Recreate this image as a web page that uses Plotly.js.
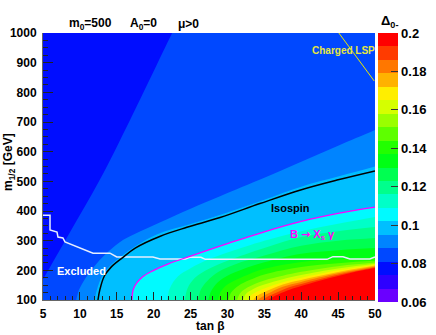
<!DOCTYPE html>
<html><head><meta charset="utf-8">
<script src="https://cdn.plot.ly/plotly-3.0.1.min.js"></script>
<style>html,body{margin:0;padding:0;background:#fff}#chart{width:436px;height:335px}</style>
</head><body><div id="chart"></div>
<script>
// ---- data ----
// band edges of Delta_0- (colour contours)
const levels = [0.081,0.088,0.095,0.102,0.109,0.116,0.123,0.130,0.137,0.144,0.151,0.158,0.165,0.172,0.179,0.186,0.193];
const cbarTicks = [0.06,0.08,0.10,0.12,0.14,0.16,0.18,0.20];
const cbarTickText = ['0.06','0.08','0.1','0.12','0.14','0.16','0.18','0.2'];

// contour of each level: tan(beta) and m_1/2 [GeV]
const tb081 = [5, 8.5, 12.7, 16.8, 22.5];
const m081  = [170, 322, 505, 707, 1000];
const tb088 = [9.5, 9.9, 10.8, 12, 13.5, 15.4, 17.5, 20.9, 25, 29, 35, 40, 45, 50];
const m088  = [100, 135, 175, 215, 255, 295, 323, 362, 408, 450, 512, 566, 620, 673];
const tb095 = [12.0, 12.3, 13.0, 14.0, 15.5, 17.5, 20.5, 25, 30, 35, 40, 45, 50];
const m095  = [100, 134, 180, 213, 245, 281, 322, 356, 395, 438, 482, 516, 550];
const tb102 = [17.06, 17.3, 18.5, 20, 22, 25, 30, 35, 40, 45, 50];
const m102  = [100, 140, 178, 200, 222, 248, 290, 330, 365, 392, 413];
const tb109 = [21.8, 22.2, 23.3, 25, 27.5, 30, 35, 40, 45, 50];
const m109  = [100, 140, 180, 207, 237, 260, 300, 332, 357, 380];
const tb116 = [24.2, 24.6, 25.6, 27.5, 30, 35, 40, 45, 50];
const m116  = [100, 140, 175, 205, 232, 275, 312, 332, 346];
const tb123 = [26, 26.4, 27.3, 28.8, 31, 35, 40, 45, 50];
const m123  = [100, 135, 165, 195, 220, 250, 283, 300, 309];
const tb130 = [27.4, 27.8, 28.7, 30, 32, 35, 40, 45, 50];
const m130  = [100, 130, 160, 182, 203, 227, 256, 268, 275];
const tb137 = [28.7, 29.1, 30, 31.5, 33, 35, 40, 45, 50];
const m137  = [100, 128, 152, 172, 188, 205, 228, 237, 242];
const tb144 = [30.1, 30.5, 31.5, 33, 35, 40, 45, 50];
const m144  = [100, 125, 148, 167, 186, 211, 224, 232];
const tb151 = [31.3, 31.7, 32.7, 35, 37.5, 40, 45, 50];
const m151  = [100, 122, 142, 166, 182, 195, 214, 226];
const tb158 = [32.1, 32.5, 33.5, 35, 37.5, 40, 45, 50];
const m158  = [100, 120, 137, 152, 170, 184, 206, 222];
const tb165 = [32.8, 33.2, 34, 35, 37.5, 40, 45, 50];
const m165  = [100, 116, 128, 139, 160, 175, 200, 219];
const tb172 = [33.5, 33.9, 35, 37.5, 40, 45, 50];
const m172  = [100, 112, 126, 152, 167, 194, 216];
const tb179 = [34.1, 34.5, 35.5, 37.5, 40, 45, 50];
const m179  = [100, 108, 122, 145, 161, 190, 213];
const tb186 = [34.8, 35.2, 36.2, 38, 40, 45, 50];
const m186  = [100, 108, 120, 140, 154, 185, 210];
const tb193 = [35.5, 35.9, 37, 38.5, 40, 42.5, 45, 47.5, 50];
const m193  = [100, 107, 120, 135, 147, 165, 181, 196, 208];

// constraint lines
const tbIso = [12.45, 12.7, 13.3, 14.2, 15.8, 17.5, 20.9, 24.5, 29, 34.4, 39.8, 45, 50];
const mIso  = [100, 134, 180, 210, 243, 275, 315, 345, 378, 425, 470, 505, 535];
const tbBsg = [17.06, 17.3, 18.5, 20, 22, 25, 30, 35, 40, 45, 50];
const mBsg  = [100, 140, 178, 200, 222, 248, 290, 330, 365, 392, 413];
const tbExcl = [5, 5.95, 5.95, 6.9, 7.03, 7.7, 7.98, 11.78, 14.08, 15.0, 19.9, 20.86, 24.3, 24.9, 26.4, 27.0, 43.5, 44.3, 45.66, 46.6, 49.3, 50];
const mExcl  = [386, 386, 336, 329, 312, 309, 296, 258, 258, 245, 245, 238, 238, 244, 244, 237, 237, 246, 246, 238, 238, 245];
const tbLsp = [45.1, 49.9];
const mLsp  = [1000, 838];

// ---- styling ----
const palette = ['#6A00FF','#2E00FF','#000DFF','#0048FF','#0084FF','#00BFFF','#00FAFF','#00FFC8','#00FF8C','#00FF51',
                 '#00FF15','#22FF00','#5EFF00','#9AFF00','#D5FF00','#FFEE00','#FFB200','#FF7700','#FF3B00','#FF0000'];
const zMin = 0.06, zMax = 0.2, zStep = 0.007;
const curvesTb = [tb081,tb088,tb095,tb102,tb109,tb116,tb123,tb130,tb137,tb144,tb151,tb158,tb165,tb172,tb179,tb186,tb193];
const curvesM  = [m081,m088,m095,m102,m109,m116,m123,m130,m137,m144,m151,m158,m165,m172,m179,m186,m193];

function closedRegion(tb, m) {
  const n = tb.length;
  let bx, by, fx, fy;
  if (m[0] <= 100) { const k = 60 / (m[1] - m[0]); bx = tb[0] - k * (tb[1] - tb[0]); by = 40; }
  else { const k = 3 / (tb[1] - tb[0]); bx = tb[0] - 3; by = m[0] - k * (m[1] - m[0]); }
  if (tb[n-1] >= 50) { const s = (m[n-1] - m[n-2]) / (tb[n-1] - tb[n-2]); fx = 58; fy = m[n-1] + 8 * s; }
  else { const k = 150 / (m[n-1] - m[n-2]); fx = tb[n-1] + k * (tb[n-1] - tb[n-2]); fy = 1150; }
  return { x: [bx].concat(tb, [fx, 70, 70]), y: [by].concat(m, [fy, fy, -200]) };
}

const traces = [];
levels.forEach((lv, i) => {
  const r = closedRegion(curvesTb[i], curvesM[i]);
  const band = Math.round((lv - zMin) / zStep);
  traces.push({ type: 'scatter', mode: 'lines', x: r.x, y: r.y, fill: 'toself',
    fillcolor: palette[band], line: { width: 0, shape: 'spline', smoothing: 1, color: palette[band] },
    hoverinfo: 'skip', showlegend: false });
});
traces.push({ type: 'scatter', mode: 'lines', x: tbExcl, y: mExcl, line: { color: '#E6EEFF', width: 1.5 }, hoverinfo: 'skip', showlegend: false });
traces.push({ type: 'scatter', mode: 'lines', x: tbIso, y: mIso, line: { color: '#000000', width: 1.5, shape: 'spline' }, hoverinfo: 'skip', showlegend: false });
traces.push({ type: 'scatter', mode: 'lines', x: tbBsg, y: mBsg, line: { color: '#FF00FF', width: 1.3, shape: 'spline' }, hoverinfo: 'skip', showlegend: false });
traces.push({ type: 'scatter', mode: 'lines', x: tbLsp, y: mLsp, line: { color: '#E8E800', width: 1 }, hoverinfo: 'skip', showlegend: false });

// colour bar holder
const cs = [];
palette.forEach((c, i) => { cs.push([i / 20, c]); cs.push([(i + 1) / 20, c]); });
traces.push({ type: 'scatter', mode: 'markers', x: [0], y: [0], hoverinfo: 'skip', showlegend: false,
  marker: { size: 1, color: [zMin], cmin: zMin, cmax: zMax, colorscale: cs, showscale: true,
    colorbar: { x: 1.009, xanchor: 'left', y: 1, yanchor: 'top', lenmode: 'pixels', len: 269, thickness: 20,
      xpad: 0, ypad: 0, outlinewidth: 0, tickmode: 'array', tickvals: cbarTicks, ticktext: cbarTickText,
      ticks: 'inside', ticklen: 7, tickcolor: '#333', tickfont: { family: 'Liberation Sans, Arial, sans-serif', size: 13, weight: 'bold', color: '#000' } } } });

const F = 'Liberation Sans, Arial, DejaVu Sans, sans-serif';
const px = (p) => (p - 43) / 332, py = (p) => (300 - p) / 267;
const ann = (text, x, y, size, color, extra) => Object.assign({ text, x, y, xref: 'paper', yref: 'paper', showarrow: false,
  xanchor: 'center', yanchor: 'middle', font: { family: F, size, color, weight: 'bold' } }, extra || {});

const layout = {
  width: 436, height: 335, margin: { l: 43, r: 61, t: 33, b: 35, autoexpand: false },
  paper_bgcolor: '#ffffff', plot_bgcolor: palette[2], showlegend: false,
  xaxis: { range: [5, 50], tick0: 5, dtick: 5, ticks: 'inside', ticklen: 8, tickcolor: '#222', showgrid: false, zeroline: false,
    showline: true, linecolor: '#666', linewidth: 1, ticklabelstandoff: 3,
    minor: { dtick: 1, ticks: 'inside', ticklen: 4, tickcolor: '#222', showgrid: false },
    tickfont: { family: F, size: 12, weight: 'bold', color: '#000' } },
  yaxis: { range: [100, 1000], tick0: 100, dtick: 100, ticks: 'inside', ticklen: 10, tickcolor: '#222', showgrid: false, zeroline: false,
    showline: true, linecolor: '#666', linewidth: 1, ticklabelstandoff: 3,
    minor: { dtick: 25, ticks: 'inside', ticklen: 5, tickcolor: '#222', showgrid: false },
    tickfont: { family: F, size: 12, weight: 'bold', color: '#000' } },
  annotations: [
    ann('m<sub>0</sub>=500', px(90), py(24), 12, '#000'),
    ann('A<sub>0</sub>=0', px(143), py(24), 12, '#000'),
    ann('μ>0', px(188), py(24), 12, '#000'),
    ann('tan β', px(210), py(326), 12, '#000'),
    ann('m<sub>1/2</sub> [GeV]', px(9), py(162), 12, '#000', { textangle: -90 }),
    ann('Δ<sub>0-</sub>', px(389), py(22), 13, '#000'),
    ann('Excluded', px(81), py(271), 11, '#FFFFFF'),
    ann('Isospin', px(290), py(208), 11, '#000000'),
    ann('B <span style="font-family:DejaVu Sans">\u2192</span> X<sub>s</sub> γ', px(312), py(235), 11, '#FF00FF'),
    ann('Charged LSP', px(343), py(50), 10, '#E6E640')
  ]
};
Plotly.newPlot('chart', traces, layout, { staticPlot: true, displayModeBar: false });
</script></body></html>
